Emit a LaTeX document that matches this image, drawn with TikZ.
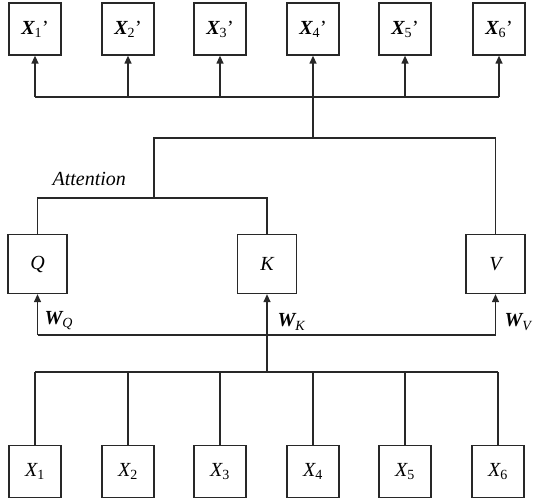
\documentclass[tikz,border=0pt]{standalone}
\usepackage{fontspec}
\setmainfont{Liberation Serif}
\usetikzlibrary{arrows.meta}
\begin{document}
\begin{tikzpicture}[x=1pt,y=-1pt,
  line width=1.3pt, draw={rgb,255:red,40;green,40;blue,40},
  box/.style={draw,minimum width=52pt,minimum height=52pt,inner sep=0pt,font=\fontsize{20}{24}\selectfont},
  qkv/.style={draw,minimum width=59pt,minimum height=59pt,inner sep=0pt,font=\fontsize{20}{24}\selectfont\itshape},
  lbl/.style={font=\fontsize{20}{24}\selectfont,inner sep=0pt,anchor=west},
  arr/.style={-{Triangle[length=8pt,width=7pt]}}]
\useasboundingbox (0,0) rectangle (534,500);
\newcommand{\outx}[1]{{\bfseries\itshape X}\textsubscript{#1}'}
\newcommand{\inx}[1]{{\itshape X}\textsubscript{#1}}
% output boxes
\node[box] (o1) at (35,29) {\outx{1}};
\node[box] (o2) at (128,29) {\outx{2}};
\node[box] (o3) at (220,29) {\outx{3}};
\node[box] (o4) at (313,29) {\outx{4}};
\node[box] (o5) at (405,29) {\outx{5}};
\node[box] (o6) at (499,29) {\outx{6}};
% QKV
\node[qkv] (q) at (37.5,264) {Q};
\node[qkv] (k) at (267,264) {K};
\node[qkv] (v) at (495.5,264) {V};
% inputs
\node[box] (i1) at (35,471.5) {\inx{1}};
\node[box] (i2) at (128,471.5) {\inx{2}};
\node[box] (i3) at (220,471.5) {\inx{3}};
\node[box] (i4) at (313,471.5) {\inx{4}};
\node[box] (i5) at (405,471.5) {\inx{5}};
\node[box] (i6) at (498,471.5) {\inx{6}};
% coordinates
\coordinate (inbus) at (267,372);
\coordinate (wbus) at (267,335);
\coordinate (att) at (154,198);
\coordinate (top) at (313,138);
\coordinate (outbus) at (313,97);
% input bus
\draw (i1.north |- inbus) -- (i6.north |- inbus);
\foreach \i in {1,...,6} \draw (i\i.north) -- (i\i.north |- inbus);
\draw (inbus) -- (wbus);
\draw (q.south |- wbus) -- (v.south |- wbus);
\draw[arr] (q.south |- wbus) -- (q.south);
\draw[arr] (wbus) -- (k.south);
\draw[arr] (v.south |- wbus) -- (v.south);
% weight labels
\node[lbl] (wq) at (44,321) {{\bfseries\itshape W}\textsubscript{\itshape Q}};
\node[lbl] (wk) at (277,322) {{\bfseries\itshape W}\textsubscript{\itshape K}};
\node[lbl] (wv) at (504,322) {{\bfseries\itshape W}\textsubscript{\itshape V}};
% attention
\draw (q.north) -- (q.north |- att) -- (k.north |- att) -- (k.north);
\draw (att) -- (att |- top) -- (v.north |- top) -- (v.north);
\node[lbl,font=\fontsize{20}{24}\selectfont\itshape] (attl) at (52,179) {Attention};
% output bus
\draw (top) -- (outbus);
\draw (o1.south |- outbus) -- (o6.south |- outbus);
\foreach \i in {1,...,6} \draw[arr] (o\i.south |- outbus) -- (o\i.south);
\end{tikzpicture}
\end{document}
